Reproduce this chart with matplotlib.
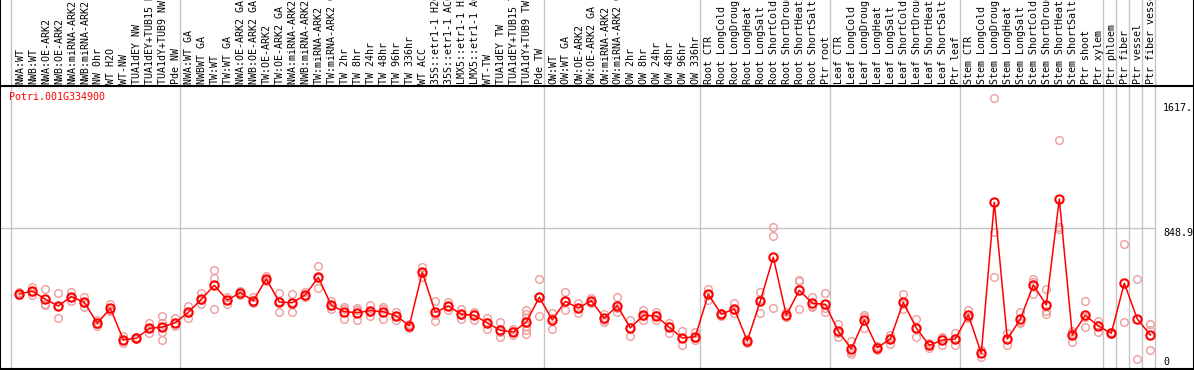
"""Profil d'expression de Potri.001G334900 par échantillon (moyenne + répliques)."""

import matplotlib
matplotlib.use("Agg")
import matplotlib.pyplot as plt
import matplotlib.transforms as mtransforms

GENE = "Potri.001G334900"

samples = [
    # groupe 1
    "NWA:WT", "NWB:WT", "NWA:OE-ARK2", "NWB:OE-ARK2", "NWA:miRNA-ARK2",
    "NWB:miRNA-ARK2", "NW 0hr", "WT H2O", "WT-NW", "TUA1dEY NW",
    "TUA1dEY+TUB15 NW", "TUA1dY+TUB9 NW", "Pde NW",
    # groupe 2
    "NWA:WT GA", "NWBWT GA", "TW:WT", "TW:WT GA", "NWA:OE-ARK2 GA",
    "NWB:OE-ARK2 GA", "TW:OE-ARK2", "TW:OE-ARK2 GA", "NWA:miRNA-ARK2 GA",
    "NWB:miRNA-ARK2 GA", "TW:miRNA-ARK2", "TW:miRNA-ARK2 GA", "TW 2hr", "TW 8hr",
    "TW 24hr", "TW 48hr", "TW 96hr", "TW 336hr", "WT ACC", "35S::etr1-1 H2O",
    "35S::etr1-1 ACC", "LMX5::etr1-1 H2O", "LMX5::etr1-1 ACC", "WT-TW",
    "TUA1dEY TW", "TUA1dEY+TUB15 TW", "TUA1dY+TUB9 TW", "Pde TW",
    # groupe 3
    "OW:WT", "OW:WT GA", "OW:OE-ARK2", "OW:OE-ARK2 GA", "OW:miRNA-ARK2",
    "OW:miRNA-ARK2 GA", "OW 2hr", "OW 8hr", "OW 24hr", "OW 48hr", "OW 96hr",
    "OW 336hr",
    # racine
    "Root CTR", "Root LongCold", "Root LongDrought", "Root LongHeat",
    "Root LongSalt", "Root ShortCold", "Root ShortDrought", "Root ShortHeat",
    "Root ShortSalt", "Ptr root",
    # feuille
    "Leaf CTR", "Leaf LongCold", "Leaf LongDrought", "Leaf LongHeat",
    "Leaf LongSalt", "Leaf ShortCold", "Leaf ShortDrought", "Leaf ShortHeat",
    "Leaf ShortSalt", "Ptr leaf",
    # tige
    "Stem CTR", "Stem LongCold", "Stem LongDrought", "Stem LongHeat",
    "Stem LongSalt", "Stem ShortCold", "Stem ShortDrought", "Stem ShortHeat",
    "Stem ShortSalt", "Ptr shoot", "Ptr xylem",
    "Ptr phloem", "Ptr fiber", "Ptr vessel", "Ptr fiber vessel",
]

# taille de chaque groupe (séparateurs verticaux)
group_sizes = [13, 28, 12, 10, 10, 11, 1, 1, 1, 1]

means = [
    447, 465, 415, 374, 431, 396, 268, 360, 168, 176, 237, 245, 272,
    335, 415, 500, 410, 455, 406, 539, 398, 394, 441, 549, 378, 339, 333,
    345, 339, 313, 253, 580, 335, 374, 323, 317, 270, 225, 215, 276, 427,
    288, 402, 361, 406, 298, 376, 239, 317, 313, 243, 178, 186,
    445, 323, 357, 160, 404, 672, 317, 470, 390, 384,
    219, 111, 288, 119, 172, 396, 239, 133, 166, 172,
    319, 84, 1008, 172, 292, 502, 380, 1028, 196, 317, 251,
    207, 513, 294, 196,
]

replicates = [
    [461, 441, 440], [490, 462, 443], [475, 388, 382], [451, 374, 298],
    [458, 428, 407], [431, 390, 369], [290, 263, 252], [386, 352, 343],
    [190, 165, 150], [186, 176, 170], [268, 237, 207],
    [313, 272, 243, 217, 166], [298, 268, 251],
    [376, 333, 298], [451, 410, 384], [594, 547, 354], [431, 413, 384],
    [467, 455, 441], [427, 402, 390], [557, 535, 528], [451, 404, 339],
    [447, 396, 339], [461, 435, 427], [618, 547, 482], [404, 376, 354],
    [369, 354, 294], [363, 348, 288], [380, 340, 315], [369, 355, 292],
    [335, 315, 288], [264, 258, 237], [615, 575, 550], [404, 320, 282],
    [400, 374, 349], [355, 320, 294], [339, 324, 288], [298, 277, 235],
    [276, 213, 186], [232, 218, 195],
    [349, 325, 298, 276, 251, 227, 202], [537, 431, 313],
    [333, 298, 233], [457, 402, 347], [390, 364, 329], [421, 406, 390],
    [325, 290, 278], [427, 363, 338], [288, 237, 192], [349, 314, 288],
    [335, 318, 288], [268, 250, 210], [223, 176, 135], [217, 176, 166],
    [478, 447, 410], [333, 323, 313], [392, 350, 330], [172, 162, 146],
    [461, 418, 333], [857, 802, 360], [339, 307, 305], [525, 530, 354],
    [427, 375, 369], [451, 362, 339],
    [262, 209, 186], [160, 95, 78], [319, 308, 237], [131, 121, 105],
    [196, 181, 139], [445, 388, 355], [294, 237, 186], [146, 138, 115],
    [186, 177, 135], [207, 174, 135],
    [349, 303, 305], [105, 84, 64], [1644, 828, 553], [207, 174, 135],
    [335, 273, 268], [539, 522, 445], [476, 345, 325], [1389, 859, 845],
    [223, 210, 155], [404, 304, 243], [284, 256, 213],
    [215, 207, 200], [751, 275], [540, 48], [262, 227, 105],
]

y_ticks = [0, 848.9, 1617]
y_tick_labels = ["0", "848.9", "1617."]

GREY = "#c4c4c4"
PINK = "#ef9c9c"
MONO = "DejaVu Sans Mono"
FS = 7.2

W, H = 1194, 370
top_px = 86                     # séparation étiquettes / tracé
fig = plt.figure(figsize=(W / 100, H / 100), dpi=100)
ax = fig.add_axes([0, 1 / H, 1, (H - 1 - top_px) / H])
lab = fig.add_axes([0, (H - top_px) / H, 1, top_px / H], sharex=ax)

# échelle : un échantillon = 13 px
x0 = -19.3 / 13
ax.set_xlim(x0, x0 + W / 13)
ax.set_ylim(-11.6, 1719)
lab.set_ylim(0, 1)

xs = list(range(len(samples)))

# séparateurs de groupes
edges = [0]
for g in group_sizes:
    edges.append(edges[-1] + g)
for e in edges:
    ax.axvline(e - 0.66, color=GREY, lw=1, zorder=0)
    lab.axvline(e - 0.66, color=GREY, lw=1, zorder=0)
ax.hlines(848.9, x0, edges[-1] - 0.66, color=GREY, lw=1, zorder=0)

# répliques puis moyennes
for i, reps in enumerate(replicates):
    ax.plot([i] * len(reps), reps, "o", mfc="none", mec=PINK, ms=5.5,
            mew=1.0, zorder=2)
ax.plot(xs, means, "-", color="red", lw=1.1, zorder=3)
ax.plot(xs, means, "o", mfc="none", mec="red", ms=6, mew=1.5, zorder=4)

# étiquettes de l'axe y, à droite
tr = mtransforms.blended_transform_factory(ax.transAxes, ax.transData)
for v, s in zip(y_ticks, y_tick_labels):
    ax.text(1163 / W, v, s, transform=tr, ha="left",
            va="bottom" if v == 0 else "top", fontsize=FS, family=MONO)

ax.text(9 / W, 0.962, GENE, transform=ax.transAxes, ha="left", va="center",
        color="red", fontsize=FS, family=MONO)

# noms des échantillons, verticaux, coupés en haut
for i, s in enumerate(samples):
    lab.text(i + 0.05, 0.025, s, rotation=90, ha="center", va="bottom",
             fontsize=FS, family=MONO, clip_on=True)

for a in (ax, lab):
    a.set_xticks([])
    a.set_yticks([])
    for sp in a.spines.values():
        sp.set_color("black")
        sp.set_linewidth(1.5)
lab.spines["top"].set_visible(False)
ax.spines["top"].set_visible(False)

fig.savefig("out.png", dpi=100)
